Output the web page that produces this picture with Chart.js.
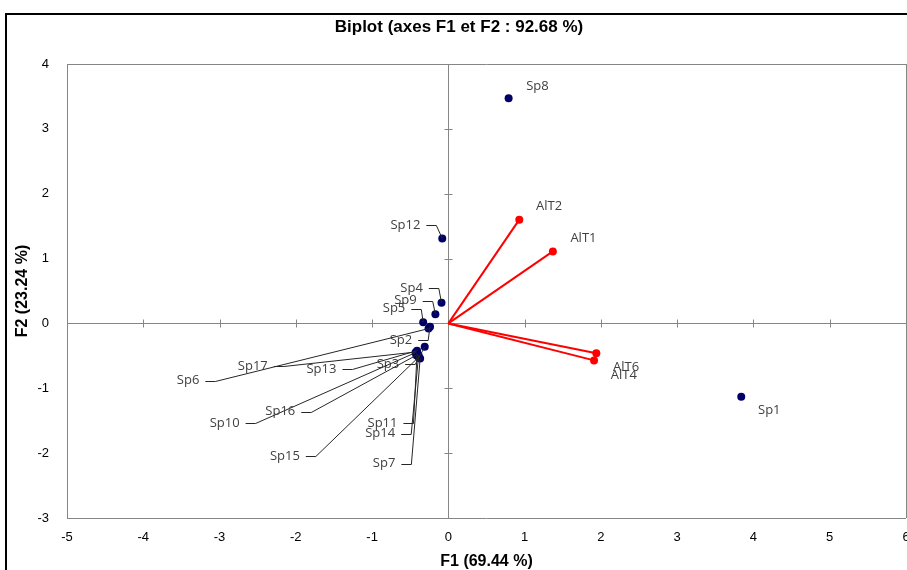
<!DOCTYPE html>
<html>
<head>
<meta charset="utf-8">
<script src="https://cdn.jsdelivr.net/npm/chart.js@4.4.1/dist/chart.umd.min.js"></script>
<style>
html, body { margin: 0; padding: 0; background: #fff; overflow: hidden; }
#frame { position: absolute; left: 5px; top: 13px; width: 1000px; height: 1000px; border: 2px solid #000; }
#biplot { position: absolute; left: 0; top: 0; }
</style>
</head>
<body>
<div id="frame"></div>
<canvas id="biplot" width="918" height="590"></canvas>
<script>
// observations (species) on F1 / F2
var speciesNames = ['Sp1', 'Sp2', 'Sp3', 'Sp4', 'Sp5', 'Sp6', 'Sp7', 'Sp8', 'Sp9', 'Sp10',
                    'Sp11', 'Sp12', 'Sp13', 'Sp14', 'Sp15', 'Sp16', 'Sp17'];
var speciesF1 = [3.84, -0.24, -0.31, -0.09, -0.33, -0.26, -0.37, 0.79, -0.17, -0.43,
                 -0.41, -0.08, -0.41, -0.39, -0.39, -0.42, -0.42];
var speciesF2 = [-1.13, -0.05, -0.36, 0.32, 0.02, -0.08, -0.54, 3.47, 0.14, -0.45,
                 -0.46, 1.31, -0.42, -0.49, -0.52, -0.49, -0.44];

// variables (red vectors)
var varNames = ['AlT1', 'AlT2', 'AlT4', 'AlT6'];
var varF1 = [1.37, 0.93, 1.91, 1.94];
var varF2 = [1.11, 1.60, -0.57, -0.46];

// where each label text starts (axis units)
var speciesLabelAt = [[4.06, -1.34], [-0.77, -0.26], [-0.94, -0.63], [-0.63, 0.54], [-0.86, 0.23],
                      [-3.56, -0.88], [-0.99, -2.16], [1.02, 3.66], [-0.71, 0.35], [-3.13, -1.54],
                      [-1.06, -1.54], [-0.76, 1.51], [-1.86, -0.71], [-1.09, -1.70], [-2.34, -2.05],
                      [-2.40, -1.36], [-2.76, -0.66]];
var varLabelAt = [[1.60, 1.31], [1.15, 1.81], [2.13, -0.80], [2.16, -0.68]];

var narrow = '"Liberation Sans Narrow", "Arial Narrow", "Liberation Sans", sans-serif';
var axisGray = '#868686';

function frameColor(ctx) {
    var v = ctx.tick.value, s = ctx.scale;
    return (v === 0 || v === s.min || v === s.max) ? axisGray : 'rgba(0,0,0,0)';
}

var datasets = [];
for (var i = 0; i < varNames.length; i++) {
    datasets.push({
        label: varNames[i],
        data: [{x: 0, y: 0}, {x: varF1[i], y: varF2[i]}],
        showLine: true,
        borderColor: '#ff0000',
        backgroundColor: '#ff0000',
        borderWidth: 2,
        pointRadius: [0, 4],
        pointBorderWidth: 0
    });
}
datasets.push({
    label: 'Observations',
    data: speciesF1.map(function (x, k) { return {x: x, y: speciesF2[k]}; }),
    backgroundColor: '#000066',
    borderColor: '#000066',
    pointRadius: 4,
    pointBorderWidth: 0
});

var labelPlugin = {
    id: 'biplotLabels',
    beforeDatasetsDraw: function (chart) {
        // little tick marks across the two zero axes
        var c = chart.ctx, xs = chart.scales.x, ys = chart.scales.y;
        var x0 = Math.round(xs.getPixelForValue(0)) + 0.5;
        var y0 = Math.round(ys.getPixelForValue(0)) + 0.5;
        c.save();
        c.strokeStyle = axisGray;
        c.lineWidth = 1;
        c.beginPath();
        for (var v = xs.min + 1; v < xs.max; v++) {
            if (v === 0) continue;
            var px = Math.round(xs.getPixelForValue(v)) + 0.5;
            c.moveTo(px, y0 - 4); c.lineTo(px, y0 + 4);
        }
        for (var w = ys.min + 1; w < ys.max; w++) {
            if (w === 0) continue;
            var py = Math.round(ys.getPixelForValue(w)) + 0.5;
            c.moveTo(x0 - 4, py); c.lineTo(x0 + 4, py);
        }
        c.stroke();
        c.restore();
    },
    afterDatasetsDraw: function (chart) {
        var c = chart.ctx, xs = chart.scales.x, ys = chart.scales.y;
        var names = speciesNames.concat(varNames);
        var at = speciesLabelAt.concat(varLabelAt);
        var px = speciesF1.concat(varF1), py = speciesF2.concat(varF2);
        c.save();
        c.font = '13px "Open Sans", sans-serif';
        c.textAlign = 'left';
        c.textBaseline = 'middle';
        c.strokeStyle = '#262626';
        c.lineWidth = 1;
        for (var i = 0; i < names.length; i++) {
            var lx = xs.getPixelForValue(at[i][0]);
            var ly = ys.getPixelForValue(at[i][1]);
            var tx = xs.getPixelForValue(px[i]);
            var ty = ys.getPixelForValue(py[i]);
            // species squeezed near the origin get a leader line
            var leader = i < speciesNames.length && names[i] !== 'Sp1' && names[i] !== 'Sp8';
            if (leader) {
                var w = c.measureText(names[i]).width;
                c.beginPath();
                c.moveTo(lx + w + 6, Math.round(ly) + 0.5);
                c.lineTo(lx + w + 16, Math.round(ly) + 0.5);
                c.lineTo(tx, ty);
                c.stroke();
            }
            c.fillStyle = '#404040';
            c.fillText(names[i], lx, ly);
        }
        c.restore();
    }
};

var ctx = document.getElementById('biplot').getContext('2d');
var myChart = new Chart(ctx, {
    type: 'scatter',
    data: { datasets: datasets },
    options: {
        responsive: false,
        animation: false,
        devicePixelRatio: 1,
        events: [],
        layout: { padding: 0 },
        plugins: {
            legend: { display: false },
            tooltip: { enabled: false },
            title: {
                display: true,
                text: 'Biplot (axes F1 et F2 : 92.68 %)',
                color: '#000',
                font: { family: narrow, size: 17, weight: 'bold' },
                padding: { top: 17, bottom: 26.6 }
            }
        },
        scales: {
            x: {
                type: 'linear',
                min: -5,
                max: 6,
                ticks: { stepSize: 1, color: '#000', font: { family: narrow, size: 13 }, padding: 12 },
                grid: { color: frameColor, drawTicks: false, lineWidth: 1 },
                border: { display: false },
                title: {
                    display: true,
                    text: 'F1 (69.44 %)',
                    color: '#000',
                    font: { family: narrow, size: 16, weight: 'bold' },
                    padding: { top: 4, bottom: 19 }
                },
                afterFit: function (scale) {
                    scale.height = 72;
                    scale.paddingRight = 12;
                }
            },
            y: {
                type: 'linear',
                min: -3,
                max: 4,
                ticks: { stepSize: 1, color: '#000', font: { family: narrow, size: 13 }, padding: 18 },
                grid: { color: frameColor, drawTicks: false, lineWidth: 1 },
                border: { display: false },
                title: {
                    display: true,
                    text: 'F2 (23.24 %)',
                    color: '#000',
                    font: { family: narrow, size: 16, weight: 'bold' },
                    padding: { top: 13, bottom: 0 }
                },
                afterFit: function (scale) {
                    scale.width = 67;
                }
            }
        }
    },
    plugins: [labelPlugin]
});
</script>
</body>
</html>
